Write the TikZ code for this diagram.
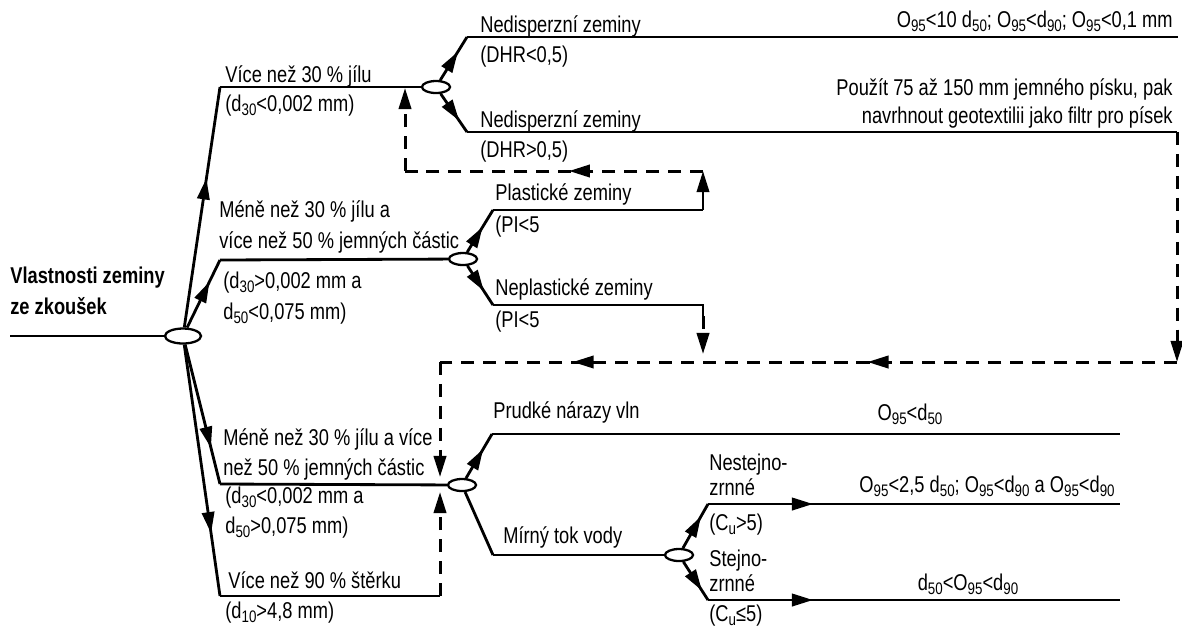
\documentclass[tikz,border=0pt]{standalone}
\usepackage{fontspec}
\setmainfont{Liberation Sans}[FakeStretch=0.8]
\usetikzlibrary{arrows.meta,shapes.geometric,decorations.markings}
\newcommand\lo[1]{\raisebox{-0.4ex}{\fontsize{9.5}{9.5}\selectfont #1}}

\begin{document}
\begin{tikzpicture}[x=0.02cm, y=-0.02cm, >={Triangle[length=12pt,width=7pt]},
  every node/.style={font=\fontsize{13}{15}\selectfont, inner sep=0pt},
  lbl/.style={anchor=base west},
  lbr/.style={anchor=base east},
  lbc/.style={anchor=base},
  ln/.style={line width=1.6pt},
  dl/.style={line width=1.7pt, dash pattern=on 7.5pt off 5pt},
  splt/.style={draw, line width=1.3pt, ellipse, minimum width=0.56cm, minimum height=0.24cm, inner sep=0pt},
  midarr/.style={postaction={decorate, decoration={markings, mark=at position #1 with {\arrow{>}}}}}]
\useasboundingbox (0,0) rectangle (1182,630);

% split points
\node[splt, minimum width=0.72cm, minimum height=0.3cm] (e0) at (183,336) {};
\node[splt] (e1) at (436,87) {};
\node[splt] (e2) at (463,259) {};
\node[splt] (e3) at (462,485) {};
\node[splt] (e4) at (679,555) {};

% corners and ends of the branches
\coordinate (r0) at (10,336);
\coordinate (a1) at (220,87);
\coordinate (a2) at (220,260);
\coordinate (a3) at (220,484);
\coordinate (a4) at (220,596);
\coordinate (a4e) at (440,596);
\coordinate (b1) at (467,37);
\coordinate (b1e) at (1178,37);
\coordinate (b2) at (467,132);
\coordinate (b2e) at (1177,132);
\coordinate (p1) at (493,210);
\coordinate (p1e) at (703,210);
\coordinate (p2) at (493,305);
\coordinate (p2e) at (703,305);
\coordinate (w1) at (492,434);
\coordinate (w1e) at (1120,434);
\coordinate (w2) at (493,555);
\coordinate (g1) at (708,504);
\coordinate (g1e) at (1120,504);
\coordinate (g2) at (708,600);
\coordinate (g2e) at (1120,600);
% feedback (dashed) route
\coordinate (k1) at (703,171);
\coordinate (k2) at (405,171);
\coordinate (k3) at (405,88);
\coordinate (n1) at (703,316);
\coordinate (n2) at (703,354);
\coordinate (m1) at (1177,362);
\coordinate (m2) at (440,362);
\coordinate (m3) at (440,477);
\coordinate (m4) at (440,492);

% solid tree
\draw[ln] (r0) -- (e0);
\draw[ln, midarr=0.62] (e0) -- (a1);
\draw[ln] (a1) -- (e1);
\draw[ln, midarr=0.68] (e0) -- (a2);
\draw[ln] (a2) -- (e2);
\draw[ln, midarr=0.74] (e0) -- (a3);
\draw[ln] (a3) -- (e3);
\draw[ln, midarr=0.75] (e0) -- (a4);
\draw[ln] (a4) -- (a4e);
\draw[ln, midarr=0.66] (e1) -- (b1);
\draw[ln] (b1) -- (b1e);
\draw[ln, midarr=0.7] (e1) -- (b2);
\draw[ln] (b2) -- (b2e);
\draw[ln, midarr=0.6] (e2) -- (p1);
\draw[ln] (p1) -- (p1e);
\draw[ln, ->] (p1e) -- (k1);
\draw[ln, midarr=0.64] (e2) -- (p2);
\draw[ln] (p2) -- (p2e) -- (n1);
\draw[ln, midarr=0.66] (e3) -- (w1);
\draw[ln] (w1) -- (w1e);
\draw[ln] (e3) -- (w2);
\draw[ln] (w2) -- (e4);
\draw[ln, midarr=0.72] (e4) -- (g1);
\draw[ln, midarr=0.255] (g1) -- (g1e);
\draw[ln, midarr=0.75] (e4) -- (g2);
\draw[ln, midarr=0.255] (g2) -- (g2e);

% dashed returns
\draw[dl, midarr=0.45] (k1) -- (k2);
\draw[dl, ->] (k2) -- (k3);
\draw[dl, ->] (n1) -- (n2);
\draw[dl, ->] (b2e) -- (m1);
\draw[dl, midarr=0.42, midarr=0.82] (m1) -- (m2);
\draw[dl, ->] (m2) -- (m3);
\draw[dl, ->] (a4e) -- (m4);

% labels
\node[lbl] (root1) at (10,283) {\bfseries Vlastnosti zeminy};
\node[lbl] (root2) at (10,314) {\bfseries ze zkoušek};
\node[lbl] (c30a) at (225,82) {Více než 30 \% jílu};
\node[lbl] (c30b) at (225,111) {(d\lo{30}<0,002 mm)};
\node[lbl] (f50a) at (219,217) {Méně než 30 \% jílu a};
\node[lbl] (f50b) at (219,248) {více než 50 \% jemných částic};
\node[lbl] (f50c) at (223,288) {(d\lo{30}>0,002 mm a};
\node[lbl] (f50d) at (223,319) {d\lo{50}<0,075 mm)};
\node[lbl] (s50a) at (223,445) {Méně než 30 \% jílu a více};
\node[lbl] (s50b) at (223,475) {než 50 \% jemných částic};
\node[lbl] (s50c) at (225,503) {(d\lo{30}<0,002 mm a};
\node[lbl] (s50d) at (225,533) {d\lo{50}>0,075 mm)};
\node[lbl] (g90a) at (228,588) {Více než 90 \% štěrku};
\node[lbl] (g90b) at (225,618) {(d\lo{10}>4,8 mm)};
\node[lbl] (nd1a) at (480,32) {Nedisperzní zeminy};
\node[lbl] (nd1b) at (480,62) {(DHR<0,5)};
\node[lbl] (nd2a) at (480,127) {Nedisperzní zeminy};
\node[lbl] (nd2b) at (480,157) {(DHR>0,5)};
\node[lbl] (pl1a) at (495,200) {Plastické zeminy};
\node[lbl] (pl1b) at (495,232) {(PI<5};
\node[lbl] (pl2a) at (495,295) {Neplastické zeminy};
\node[lbl] (pl2b) at (495,327) {(PI<5};
\node[lbl] (wave) at (493,418) {Prudké nárazy vln};
\node[lbl] (flow) at (503,543) {Mírný tok vody};
\node[lbl] (ns1) at (709,470) {Nestejno-};
\node[lbl] (ns2) at (709,495) {zrnné};
\node[lbl] (ns3) at (709,530) {(C\lo{u}>5)};
\node[lbl] (st1) at (709,566) {Stejno-};
\node[lbl] (st2) at (709,591) {zrnné};
\node[lbl] (st3) at (709,621) {(C\lo{u}≤5)};
\node[lbr] (crit1) at (1173,27) {O\lo{95}<10 d\lo{50}; O\lo{95}<d\lo{90}; O\lo{95}<0,1 mm};
\node[lbr] (sand1) at (1173,95) {Použít 75 až 150 mm jemného písku, pak};
\node[lbr] (sand2) at (1173,123) {navrhnout geotextilii jako filtr pro písek};
\node[lbc] (crit2) at (910,420) {O\lo{95}<d\lo{50}};
\node[lbr] (crit3) at (1115,492) {O\lo{95}<2,5 d\lo{50}; O\lo{95}<d\lo{90} a O\lo{95}<d\lo{90}};
\node[lbc] (crit4) at (968,590) {d\lo{50}<O\lo{95}<d\lo{90}};
\end{tikzpicture}
\end{document}
